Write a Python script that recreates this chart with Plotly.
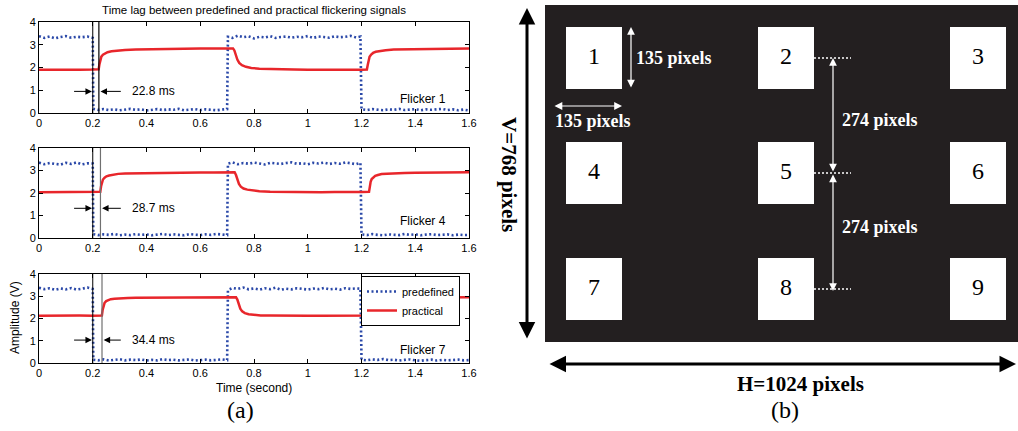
import plotly.graph_objects as go

W, H = 1018, 431

# ---------------- data: panel (a) ----------------
pred_time = [
    0.00, 0.02, 0.04, 0.06, 0.08, 0.10, 0.12, 0.14, 0.16, 0.18, 0.20,
    0.202, 0.22, 0.24, 0.26, 0.28, 0.30, 0.32, 0.34, 0.36, 0.38, 0.40, 0.42, 0.44,
    0.46, 0.48, 0.50, 0.52, 0.54, 0.56, 0.58, 0.60, 0.62, 0.64, 0.66, 0.68, 0.70,
    0.703, 0.72, 0.74, 0.76, 0.78, 0.80, 0.82, 0.84, 0.86, 0.88, 0.90, 0.92, 0.94,
    0.96, 0.98, 1.00, 1.02, 1.04, 1.06, 1.08, 1.10, 1.12, 1.14, 1.16, 1.18, 1.196,
    1.200, 1.22, 1.24, 1.26, 1.28, 1.30, 1.32, 1.34, 1.36, 1.38, 1.40, 1.42, 1.44,
    1.46, 1.48, 1.50, 1.52, 1.54, 1.56, 1.58, 1.60,
]
pred_f1 = [
    3.38, 3.30, 3.36, 3.28, 3.34, 3.38, 3.31, 3.35, 3.33, 3.36, 3.30,
    0.18, 0.14, 0.17, 0.13, 0.16, 0.12, 0.15, 0.18, 0.14, 0.16, 0.11, 0.15, 0.17,
    0.13, 0.16, 0.14, 0.18, 0.12, 0.15, 0.17, 0.13, 0.16, 0.14, 0.12, 0.15, 0.17,
    3.35, 3.30, 3.40, 3.33, 3.37, 3.28, 3.35, 3.32, 3.38, 3.30, 3.34, 3.36, 3.31,
    3.35, 3.33, 3.38, 3.30, 3.36, 3.34, 3.31, 3.37, 3.33, 3.35, 3.39, 3.32, 3.36,
    0.16, 0.13, 0.17, 0.15, 0.12, 0.16, 0.14, 0.18, 0.13, 0.15, 0.17, 0.12, 0.16,
    0.14, 0.15, 0.18, 0.13, 0.16, 0.12, 0.15, 0.11,
]
pred_f4 = [
    3.35, 3.28, 3.33, 3.30, 3.26, 3.34, 3.29, 3.36, 3.27, 3.32, 3.31,
    0.17, 0.13, 0.16, 0.14, 0.18, 0.12, 0.15, 0.13, 0.17, 0.14, 0.16, 0.12, 0.15,
    0.18, 0.13, 0.16, 0.14, 0.12, 0.17, 0.15, 0.13, 0.16, 0.14, 0.18, 0.15, 0.13,
    3.30, 3.36, 3.28, 3.33, 3.30, 3.35, 3.31, 3.27, 3.34, 3.32, 3.29, 3.33, 3.36,
    3.30, 3.32, 3.28, 3.34, 3.31, 3.35, 3.29, 3.33, 3.30, 3.36, 3.32, 3.28, 3.34,
    0.16, 0.13, 0.17, 0.14, 0.12, 0.16, 0.15, 0.13, 0.18, 0.14, 0.16, 0.12, 0.15,
    0.17, 0.13, 0.14, 0.16, 0.12, 0.15, 0.13, 0.14,
]
pred_f7 = [
    3.38, 3.32, 3.36, 3.29, 3.35, 3.31, 3.37, 3.30, 3.34, 3.39, 3.33,
    0.15, 0.12, 0.16, 0.11, 0.14, 0.17, 0.12, 0.15, 0.13, 0.16, 0.11, 0.14, 0.12,
    0.17, 0.13, 0.15, 0.12, 0.14, 0.16, 0.11, 0.13, 0.15, 0.12, 0.14, 0.16, 0.13,
    3.28, 3.37, 3.33, 3.39, 3.31, 3.35, 3.30, 3.36, 3.32, 3.38, 3.29, 3.34, 3.31,
    3.36, 3.33, 3.30, 3.35, 3.32, 3.37, 3.31, 3.34, 3.30, 3.36, 3.33, 3.35, 3.34,
    0.15, 0.12, 0.16, 0.14, 0.18, 0.13, 0.15, 0.11, 0.14, 0.16, 0.12, 0.10, 0.13,
    0.15, 0.11, 0.14, 0.12, 0.13, 0.15, 0.12, 0.13,
]

prac_time_f1 = [
    0.00, 0.05, 0.10, 0.15, 0.20,
    0.222, 0.225, 0.228, 0.232, 0.238, 0.245, 0.255, 0.27, 0.29, 0.32, 0.36,
    0.40, 0.45, 0.50, 0.55, 0.60, 0.65, 0.70,
    0.722, 0.727, 0.732, 0.738, 0.745, 0.755, 0.77, 0.79, 0.82, 0.86,
    0.90, 0.95, 1.00, 1.05, 1.10, 1.15, 1.20,
    1.220, 1.223, 1.226, 1.230, 1.236, 1.243, 1.253, 1.27, 1.29, 1.32, 1.36,
    1.40, 1.45, 1.50, 1.55, 1.60,
]
prac_f1 = [
    1.90, 1.89, 1.91, 1.90, 1.91,
    1.92, 2.15, 2.35, 2.48, 2.56, 2.62, 2.67, 2.71, 2.74, 2.77, 2.79,
    2.80, 2.81, 2.82, 2.82, 2.83, 2.83, 2.84,
    2.84, 2.75, 2.55, 2.35, 2.20, 2.10, 2.03, 1.98, 1.95, 1.93,
    1.92, 1.91, 1.90, 1.91, 1.90, 1.90, 1.90,
    1.91, 2.10, 2.32, 2.47, 2.57, 2.64, 2.69, 2.73, 2.76, 2.79, 2.80,
    2.81, 2.82, 2.83, 2.83, 2.84,
]
prac_time_f4 = [
    0.00, 0.05, 0.10, 0.15, 0.20,
    0.228, 0.231, 0.234, 0.238, 0.244, 0.251, 0.261, 0.275, 0.295, 0.32, 0.36,
    0.40, 0.45, 0.50, 0.55, 0.60, 0.65, 0.70,
    0.728, 0.733, 0.738, 0.744, 0.751, 0.761, 0.775, 0.795, 0.82, 0.86,
    0.90, 0.95, 1.00, 1.05, 1.10, 1.15, 1.20,
    1.228, 1.231, 1.234, 1.238, 1.244, 1.251, 1.261, 1.275, 1.295, 1.32, 1.36,
    1.40, 1.45, 1.50, 1.55, 1.60,
]
prac_f4 = [
    2.03, 2.04, 2.02, 2.05, 2.04,
    2.05, 2.30, 2.48, 2.60, 2.68, 2.74, 2.78, 2.82, 2.85, 2.87, 2.88,
    2.89, 2.89, 2.90, 2.90, 2.91, 2.91, 2.92,
    2.92, 2.80, 2.58, 2.40, 2.28, 2.20, 2.15, 2.11, 2.08, 2.06,
    2.05, 2.04, 2.04, 2.03, 2.04, 2.03, 2.04,
    2.05, 2.30, 2.50, 2.62, 2.70, 2.76, 2.80, 2.84, 2.86, 2.88, 2.89,
    2.90, 2.90, 2.91, 2.91, 2.92,
]
prac_time_f7 = [
    0.00, 0.05, 0.10, 0.15, 0.20,
    0.234, 0.237, 0.240, 0.244, 0.250, 0.257, 0.267, 0.281, 0.30, 0.33, 0.36,
    0.40, 0.45, 0.50, 0.55, 0.60, 0.65, 0.70,
    0.733, 0.738, 0.743, 0.749, 0.756, 0.766, 0.78, 0.80, 0.825, 0.86,
    0.90, 0.95, 1.00, 1.05, 1.10, 1.15, 1.20,
    1.238, 1.241, 1.244, 1.248, 1.254, 1.261, 1.271, 1.285, 1.305, 1.33, 1.36,
    1.40, 1.45, 1.50, 1.55, 1.60,
]
prac_f7 = [
    2.12, 2.13, 2.11, 2.13, 2.12,
    2.13, 2.40, 2.58, 2.70, 2.78, 2.83, 2.87, 2.89, 2.91, 2.92, 2.93,
    2.93, 2.94, 2.94, 2.95, 2.95, 2.96, 2.96,
    2.96, 2.85, 2.62, 2.44, 2.32, 2.24, 2.19, 2.16, 2.14, 2.13,
    2.12, 2.13, 2.12, 2.12, 2.13, 2.12, 2.13,
    2.13, 2.40, 2.60, 2.72, 2.80, 2.85, 2.88, 2.90, 2.92, 2.93, 2.93,
    2.94, 2.94, 2.95, 2.95, 2.95,
]

flicker_names = ["Flicker 1", "Flicker 4", "Flicker 7"]
lag_ms = [22.8, 28.7, 34.4]
onset_s = 0.2
x_tickvals = [0, 0.2, 0.4, 0.6, 0.8, 1.0, 1.2, 1.4, 1.6]
x_ticktext = ["0", "0.2", "0.4", "0.6", "0.8", "1", "1.2", "1.4", "1.6"]
y_tickvals = [0, 1, 2, 3, 4]

# ---------------- data: panel (b) ----------------
target_labels = ["1", "2", "3", "4", "5", "6", "7", "8", "9"]
screen_w_px = 1024
screen_h_px = 768
target_px = 135
target_gap_px = 274

# ---------------- layout constants ----------------
SANS = "Arial, Liberation Sans, sans-serif"
SERIF = "Times New Roman, Liberation Serif, serif"
BLUE = "#2a48a8"
RED = "#e8262b"
PANEL_BG = "#231f20"

plot_x_px = (39, 469)
plot_y_px = [(22, 113), (148, 238), (274, 363)]
arrow_y = [0.95, 1.32, 1.03]
flick_label_y = [0.63, 0.77, 0.58]
second_line_color = ["black", "#707070", "#707070"]


def dom_x(a, b):
    return [a / W, b / W]


def dom_y(top, bottom):
    return [1 - bottom / H, 1 - top / H]


fig = go.Figure()

series = [
    (pred_f1, prac_time_f1, prac_f1),
    (pred_f4, prac_time_f4, prac_f4),
    (pred_f7, prac_time_f7, prac_f7),
]

annotations = []
shapes = []
axis_common = dict(
    showline=True, linecolor="black", linewidth=1, mirror="ticks",
    ticks="inside", ticklen=4, tickcolor="black", showgrid=False,
    zeroline=False, automargin=False,
    tickfont=dict(family=SANS, size=11, color="black"),
)

for i, (pv, pt, yv) in enumerate(series):
    xa = "x" if i == 0 else f"x{i + 1}"
    ya = "y" if i == 0 else f"y{i + 1}"
    last = i == 2
    fig.add_trace(go.Scatter(
        x=pred_time, y=pv, xaxis=xa, yaxis=ya, mode="lines",
        name="predefined", showlegend=last, legendrank=1,
        line=dict(color=BLUE, width=2.6, dash="2px,2.5px"),
    ))
    fig.add_trace(go.Scatter(
        x=pt, y=yv, xaxis=xa, yaxis=ya, mode="lines",
        name="practical", showlegend=last, legendrank=2,
        line=dict(color=RED, width=2.5),
    ))
    key = "" if i == 0 else str(i + 1)
    xaxis = dict(axis_common, domain=dom_x(*plot_x_px), range=[0, 1.6],
                 tickvals=x_tickvals, ticktext=x_ticktext, anchor=ya)
    yaxis = dict(axis_common, domain=dom_y(*plot_y_px[i]), range=[0, 4],
                 tickvals=y_tickvals, anchor=xa)
    fig.update_layout(**{f"xaxis{key}": xaxis, f"yaxis{key}": yaxis})

    lag_end = onset_s + lag_ms[i] / 1000.0
    shapes.append(dict(type="line", xref=xa, yref=f"{ya} domain",
                       x0=onset_s, x1=onset_s, y0=0, y1=1,
                       line=dict(color="black", width=1)))
    shapes.append(dict(type="line", xref=xa, yref=f"{ya} domain",
                       x0=lag_end, x1=lag_end, y0=0, y1=1,
                       line=dict(color=second_line_color[i], width=1.2)))
    ay = arrow_y[i]
    annotations.append(dict(xref=xa, yref=ya, axref=xa, ayref=ya,
                            x=onset_s - 0.003, y=ay, ax=0.125, ay=ay, text="",
                            showarrow=True, arrowhead=2, arrowsize=1.3,
                            arrowwidth=1, arrowcolor="black"))
    annotations.append(dict(xref=xa, yref=ya, axref=xa, ayref=ya,
                            x=lag_end + 0.006, y=ay, ax=0.31, ay=ay, text="",
                            showarrow=True, arrowhead=2, arrowsize=1.3,
                            arrowwidth=1, arrowcolor="black"))
    annotations.append(dict(xref=xa, yref=ya, x=0.337, y=ay, text=f"{lag_ms[i]} ms",
                            showarrow=False, xanchor="left", yanchor="middle",
                            font=dict(family=SANS, size=12, color="black")))
    annotations.append(dict(xref=xa, yref=ya, x=1.335, y=flick_label_y[i],
                            text=flicker_names[i], showarrow=False,
                            xanchor="left", yanchor="middle",
                            font=dict(family=SANS, size=12, color="black")))

# axis titles of the bottom plot (placed as annotations to control position)
annotations += [
    dict(xref="paper", yref="paper", x=254 / W, y=1 - 388 / H, text="Time (second)",
         xanchor="center", yanchor="middle",
         showarrow=False, font=dict(family=SANS, size=12, color="black")),
    dict(xref="paper", yref="paper", x=15 / W, y=1 - 318 / H, text="Amplitude (V)",
         xanchor="center", yanchor="middle",
         textangle=-90, showarrow=False, font=dict(family=SANS, size=12, color="black")),
]

# ---------------- panel (b) diagram ----------------
fig.update_layout(
    xaxis4=dict(domain=[0, 1], range=[0, W], visible=False, fixedrange=True,
                anchor="y4", automargin=False),
    yaxis4=dict(domain=[0, 1], range=[H, 0], visible=False, fixedrange=True,
                anchor="x4", automargin=False),
)

col_cx = [594, 786, 978]
row_cy = [58, 173, 289]
half_w, half_h = 28, 31

shapes.append(dict(type="rect", xref="x4", yref="y4", x0=545, x1=W + 5, y0=5, y1=342,
                   fillcolor=PANEL_BG, line=dict(width=0), layer="below"))
tx, ty = [], []
for k, lab in enumerate(target_labels):
    cx, cy = col_cx[k % 3], row_cy[k // 3]
    shapes.append(dict(type="rect", xref="x4", yref="y4",
                       x0=cx - half_w, x1=cx + half_w, y0=cy - half_h, y1=cy + half_h,
                       fillcolor="white", line=dict(width=0), layer="below"))
    tx.append(cx)
    ty.append(cy)
fig.add_trace(go.Scatter(x=tx, y=ty, xaxis="x4", yaxis="y4", mode="text",
                         text=target_labels, textposition="middle center",
                         textfont=dict(family=SERIF, size=24, color="black"),
                         showlegend=False, hoverinfo="skip"))

# dashed guide lines from the middle column
dash_x0 = col_cx[1] + half_w
dash_x1 = dash_x0 + 37
for cy in row_cy:
    shapes.append(dict(type="line", xref="x4", yref="y4", x0=dash_x0, x1=dash_x1,
                       y0=cy, y1=cy, line=dict(color="white", width=1.5, dash="2px,2px")))

white_arrow = dict(xref="x4", yref="y4", axref="x4", ayref="y4", text="",
                   showarrow=True, arrowhead=2, startarrowhead=2, arrowside="end+start",
                   arrowsize=1.3, startarrowsize=1.3, arrowwidth=1.2, arrowcolor="white")
gap_x = 833
annotations += [
    dict(white_arrow, x=631, y=row_cy[0] - half_h, ax=631, ay=row_cy[0] + half_h),
    dict(white_arrow, x=col_cx[0] + half_w, y=106, ax=553, ay=106),
    dict(white_arrow, x=gap_x, y=row_cy[0], ax=gap_x, ay=row_cy[1]),
    dict(white_arrow, x=gap_x, y=row_cy[2] + 2, ax=gap_x, ay=row_cy[1]),
]
lab_font = dict(family=SERIF, size=18, color="white", weight="bold")
annotations += [
    dict(xref="x4", yref="y4", x=634, y=row_cy[0], text=f"{target_px} pixels",
         showarrow=False, xanchor="left", yanchor="middle", font=lab_font),
    dict(xref="x4", yref="y4", x=553, y=121, text=f"{target_px} pixels",
         showarrow=False, xanchor="left", yanchor="middle", font=lab_font),
    dict(xref="x4", yref="y4", x=840, y=120, text=f"{target_gap_px} pixels",
         showarrow=False, xanchor="left", yanchor="middle", font=lab_font),
    dict(xref="x4", yref="y4", x=840, y=227, text=f"{target_gap_px} pixels",
         showarrow=False, xanchor="left", yanchor="middle", font=lab_font),
]

black_arrow = dict(xref="x4", yref="y4", axref="x4", ayref="y4", text="",
                   showarrow=True, arrowhead=2, startarrowhead=2, arrowside="end+start",
                   arrowsize=1.1, startarrowsize=1.1, arrowwidth=3, arrowcolor="black")
annotations += [
    dict(black_arrow, x=527, y=8, ax=527, ay=340),
    dict(black_arrow, x=1016, y=364, ax=548, ay=364),
]
big_font = dict(family=SERIF, size=21, color="black", weight="bold")
annotations += [
    dict(xref="x4", yref="y4", x=509, y=174, text=f"V={screen_h_px} pixels",
         xanchor="center", yanchor="middle",
         textangle=90, showarrow=False, font=big_font),
    dict(xref="x4", yref="y4", x=800, y=384, text=f"H={screen_w_px} pixels",
         xanchor="center", yanchor="middle", showarrow=False, font=big_font),
    dict(xref="paper", yref="paper", x=240 / W, y=1 - 410 / H, text="(a)",
         xanchor="center", yanchor="middle",
         showarrow=False, font=dict(family=SERIF, size=24, color="black")),
    dict(xref="paper", yref="paper", x=785 / W, y=1 - 410 / H, text="(b)",
         xanchor="center", yanchor="middle",
         showarrow=False, font=dict(family=SERIF, size=24, color="black")),
]

fig.update_layout(
    width=W, height=H,
    margin=dict(l=0, r=0, t=0, b=0, pad=0, autoexpand=False),
    paper_bgcolor="white", plot_bgcolor="rgba(0,0,0,0)",
    title=dict(text="Time lag between predefined and practical flickering signals",
               x=254 / W, xanchor="center", y=1 - 10 / H, yanchor="middle",
               automargin=False,
               font=dict(family=SANS, size=11.5, color="black")),
    showlegend=True,
    legend=dict(x=361 / W, y=1 - 276 / H, xanchor="left", yanchor="top",
                bgcolor="white", bordercolor="black", borderwidth=1,
                font=dict(family=SANS, size=11, color="black"),
                tracegroupgap=0, itemwidth=30),
    shapes=shapes,
    annotations=annotations,
)

fig.write_html(
    "out.html",
    config={"displayModeBar": False},
    post_script="document.body.style.margin='0';document.body.style.overflow='hidden';",
)
